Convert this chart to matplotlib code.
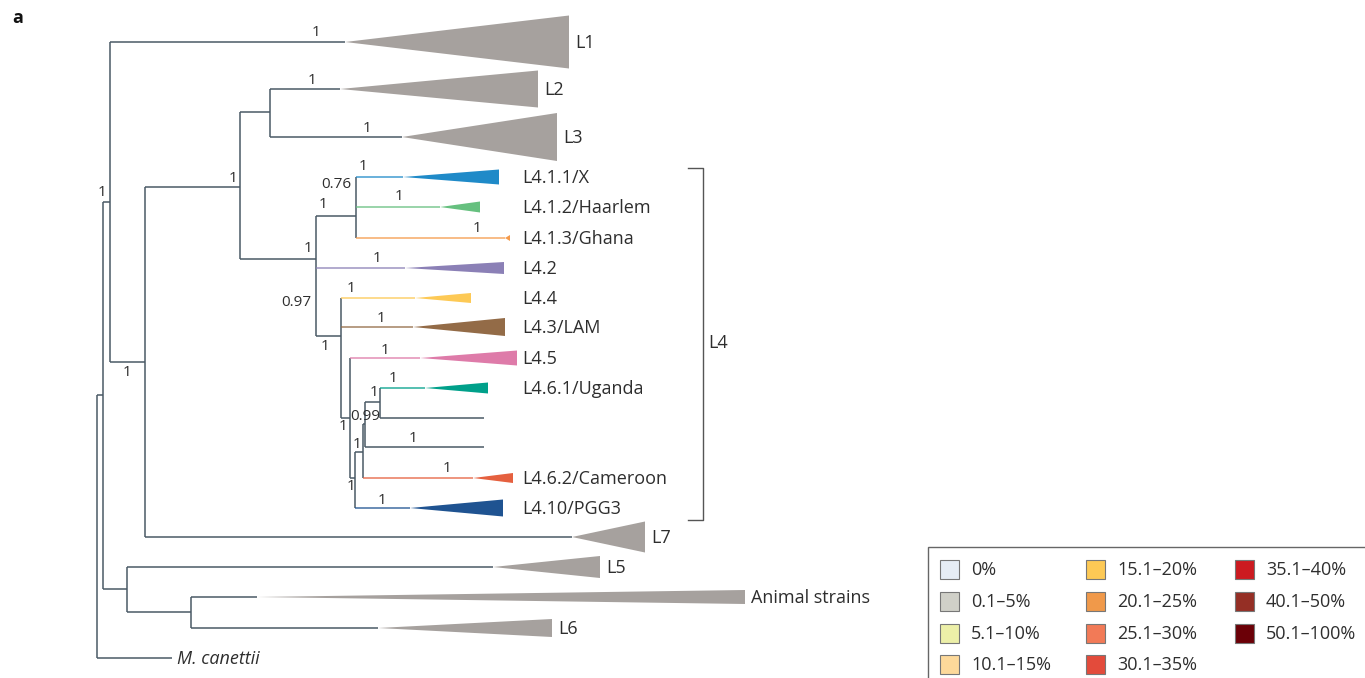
import matplotlib
matplotlib.use("Agg")
import matplotlib.pyplot as plt
from matplotlib.patches import Polygon, Rectangle

plt.rcParams['font.family'] = ['Open Sans', 'DejaVu Sans']

# ---------------- data ----------------
# internal nodes: name, depth (x), attachment position (y), parent
node_names  = ["root", "B", "C", "D", "E", "F", "G", "H", "I", "J", "K", "L", "M", "N", "O", "P"]
node_x      = [97, 103, 110, 145, 240, 270, 316, 356, 341, 350, 355, 363, 365, 380, 127, 191]
node_y      = [None, 395, 202, 362, 187, 112, 259, 216, 336, 418, 478, 452, 424, 402, 589, 612]
node_parent = [None, "root", "B", "C", "D", "E", "E", "G", "G", "I", "J", "K", "L", "M", "B", "O"]

# collapsed clades (leaves)
leaf_labels  = ["L1", "L2", "L3", "L4.1.1/X", "L4.1.2/Haarlem", "L4.1.3/Ghana", "L4.2", "L4.4",
                "L4.3/LAM", "L4.5", "L4.6.1/Uganda", "", "", "L4.6.2/Cameroon", "L4.10/PGG3",
                "L7", "L5", "Animal strains", "L6", "M. canettii"]
leaf_parent  = ["C", "F", "F", "H", "H", "H", "G", "I", "I", "J", "N", "N", "M", "L", "K",
                "D", "O", "P", "P", "root"]
leaf_y       = [42, 89, 137, 177, 207, 238, 268, 298, 327, 358, 388, 418, 447, 478, 508,
                537, 567, 597, 628, 658]
leaf_stem    = [345, 340, 402, 403, 440, 505, 405, 415, 413, 420, 425, 484, 484, 473, 410,
                572, 493, 257, 378, 172]
leaf_tip     = [569, 538, 557, 499, 480, 510, 504, 471, 505, 517, 488, 484, 484, 513, 503,
                645, 600, 745, 552, 172]
leaf_height  = [53, 37, 48, 15, 11, 6, 12, 10, 18, 15, 11, 0, 0, 10, 17,
                31, 22, 14, 18, 0]
leaf_color   = ["#a6a19e", "#a6a19e", "#a6a19e", "#1f8ac8", "#66c07f", "#f59a4b", "#8b80b6",
                "#fdc955", "#936b47", "#de7ba9", "#00a08a", "#5e6a73", "#5e6a73", "#e5603f",
                "#1f5391", "#a6a19e", "#a6a19e", "#a6a19e", "#a6a19e", "#4a5a66"]

# support values
support_text = ["1", "1", "1", "1", "1", "1", "1", "1", "0.76", "1", "1", "1", "1", "0.97",
                "1", "1", "1", "1", "1", "1", "1", "0.99", "1", "1", "1", "1", "1"]
support_x    = [102, 127, 233, 316, 312, 367, 308, 323, 336, 363, 399, 477, 377, 296,
                351, 381, 325, 385, 343, 393, 374, 365, 357, 413, 447, 351, 382]
support_y    = [192, 372, 178, 33, 80, 128, 248, 205, 185, 167, 197, 228, 258, 302,
                288, 318, 347, 350, 427, 379, 393, 417, 444, 438, 468, 487, 500]

# legend
legend_labels = ["0%", "0.1\u20135%", "5.1\u201310%", "10.1\u201315%", "15.1\u201320%",
                 "20.1\u201325%", "25.1\u201330%", "30.1\u201335%", "35.1\u201340%",
                 "40.1\u201350%", "50.1\u2013100%"]
legend_colors = ["#e6edf5", "#d0d0c8", "#ecefa8", "#fdd99a", "#fdc955", "#f0994a",
                 "#f27a57", "#e34b3b", "#cc1a20", "#952f25", "#6b0007"]

# ---------------- drawing ----------------
W, H = 1365, 678
fig = plt.figure(figsize=(W / 100, H / 100), dpi=100)
ax = fig.add_axes([0, 0, 1, 1])
ax.set_xlim(0, W)
ax.set_ylim(H, 0)
ax.axis("off")

LINE = "#4a5a66"
TXT = "#2e2e2e"
LW = 1.1
FS = 13
FS_SUP = 11

nx = dict(zip(node_names, node_x))
ny = dict(zip(node_names, node_y))
npar = dict(zip(node_names, node_parent))

# collect children y for verticals
children_y = {n: [] for n in node_names}
for n in node_names:
    p = npar[n]
    if p is not None:
        children_y[p].append(ny[n])
for p, y in zip(leaf_parent, leaf_y):
    children_y[p].append(y)

# verticals
for n in node_names:
    ys = children_y[n] + ([ny[n]] if ny[n] is not None else [])
    ax.plot([nx[n], nx[n]], [min(ys), max(ys)], color=LINE, lw=LW, solid_capstyle="butt")
# internal horizontals
for n in node_names:
    p = npar[n]
    if p is not None:
        ax.plot([nx[p], nx[n]], [ny[n], ny[n]], color=LINE, lw=LW, solid_capstyle="butt")

# leaves
for lab, p, y, st, tip, h, c in zip(leaf_labels, leaf_parent, leaf_y, leaf_stem,
                                     leaf_tip, leaf_height, leaf_color):
    x0 = nx[p]
    grey = c == "#a6a19e"
    stem_col = LINE if (grey or c in ("#5e6a73", "#4a5a66")) else c
    ax.plot([x0, st], [y, y], color=stem_col, lw=LW, solid_capstyle="butt",
            alpha=1.0 if stem_col == LINE else 0.85)
    if h > 0:
        ax.add_patch(Polygon([(st, y), (tip, y - h / 2), (tip, y + h / 2)], closed=True,
                             facecolor=c, edgecolor="none"))
    if lab == "M. canettii":
        ax.text(tip + 5, y + 1, lab, fontsize=FS, style="italic", color=TXT,
                va="center", ha="left")
    elif lab:
        lx = 522 if lab.startswith("L4.") else tip + 6
        ax.text(lx, y + 1, lab, fontsize=FS, color=TXT, va="center", ha="left")

# support values
for t, x, y in zip(support_text, support_x, support_y):
    ax.text(x, y, t, fontsize=FS_SUP, color=TXT, ha="center", va="center")

# L4 bracket
ax.plot([688, 703, 703, 688], [168, 168, 520, 520], color="#555555", lw=1.0)
ax.text(708, 343, "L4", fontsize=FS, color=TXT, va="center", ha="left")

# panel letter
ax.text(12, 18, "a", fontsize=13, fontweight="bold", color="#111111", va="center", ha="left")

# legend
ax.add_patch(Rectangle((928, 547), 445, 140, facecolor="white", edgecolor="#666666", lw=1.0))
col_x = [940, 1086, 1235]
row_y = [569, 601, 633, 664]
for i, (lab, c) in enumerate(zip(legend_labels, legend_colors)):
    col = i // 4
    row = i % 4
    px = col_x[col]
    py = row_y[row]
    ax.add_patch(Rectangle((px, py - 9.5), 19, 19, facecolor=c, edgecolor="#777777", lw=0.8))
    ax.text(px + 31, py + 1, lab, fontsize=FS, color=TXT, va="center", ha="left")

fig.savefig("out.png", dpi=100)
